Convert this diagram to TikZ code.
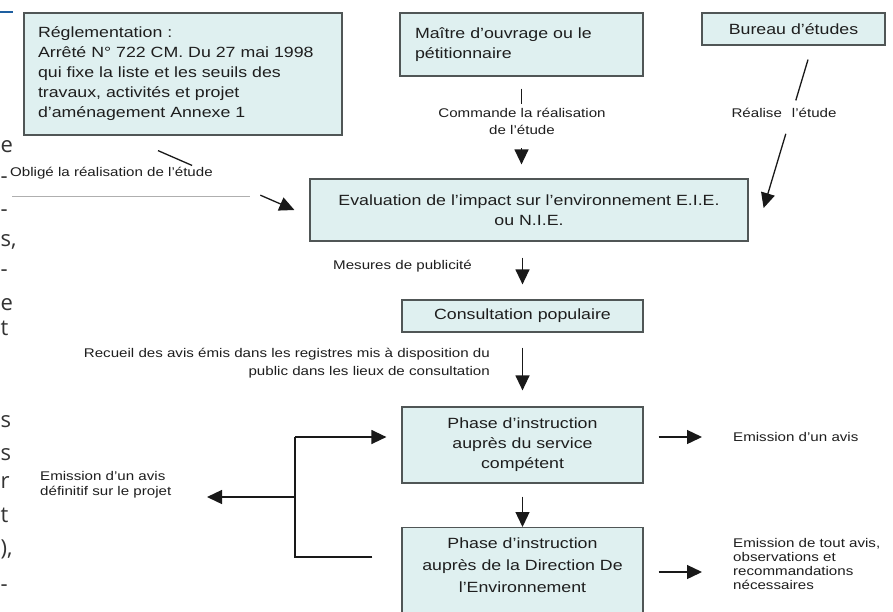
\documentclass[tikz,border=0pt]{standalone}
\usepackage{fontspec}
\setmainfont{Liberation Sans}[FakeStretch=1.2]
\newfontfamily\marginfont{Open Sans}
\usetikzlibrary{arrows.meta,calc}
\definecolor{boxfill}{RGB}{223,240,240}
\definecolor{boxline}{RGB}{80,86,86}
\definecolor{ink}{RGB}{30,30,30}
\definecolor{rulegray}{RGB}{175,175,175}
\definecolor{pageblue}{RGB}{30,95,160}
\begin{document}
\begin{tikzpicture}[x=1pt,y=-1pt,
  box/.style={draw=boxline,line width=1.2pt,fill=boxfill,inner sep=0pt,text=ink,
    font=\fontsize{14.8}{20}\selectfont},
  boxtext/.style={inner sep=0pt,text=ink,font=\fontsize{14.8}{22}\selectfont},
  lbl/.style={inner sep=0pt,text=ink,font=\fontsize{12.6}{15}\selectfont},
  link/.style={draw=black!90,line width=1.3pt},
  arr/.style={link,-{Triangle[width=14pt,length=15pt]}},
  margintext/.style={inner sep=0pt,anchor=west,text=black!80,
    font=\marginfont\fontsize{22}{22}\selectfont}]

\fill[white] (0,0) rectangle (893,611);
\useasboundingbox (0,0) rectangle (893,611);

% line ends of the neighbouring page column
\draw[pageblue,line width=2.2pt] (0,12) -- (13,12);
\node[margintext] (m1)  at (0.5,147) {e};
\node[margintext] (m2)  at (0.5,180) {-};
\node[margintext] (m3)  at (0.5,213) {-};
\node[margintext] (m4)  at (0.5,242) {s,};
\node[margintext] (m5)  at (0.5,273) {-};
\node[margintext] (m6)  at (0.5,305) {e};
\node[margintext] (m7)  at (0.5,328) {t};
\node[margintext] (m8)  at (0.5,422) {s};
\node[margintext] (m9)  at (0.5,455) {s};
\node[margintext] (m10) at (0.5,482) {r};
\node[margintext] (m11) at (0.5,515) {t};
\node[margintext] (m12) at (0.5,549) {),};
\node[margintext] (m13) at (0.5,588) {-};

% boxes
\node[box,minimum width=318pt,minimum height=122pt,text width=290pt,align=left]
  (regl) at (183,74) {Réglementation :\\Arrêté N° 722 CM. Du 27 mai 1998\\qui fixe la liste et les seuils des\\travaux, activités et projet\\d'aménagement Annexe 1};
\node[box,minimum width=243pt,minimum height=63pt,text width=213pt,align=left]
  (maitre) at (521.5,44.5) {Maître d'ouvrage ou le\\pétitionnaire};
\node[box,minimum width=183pt,minimum height=32pt]
  (bureau) at (793.5,29) {Bureau d'études};
\node[box,minimum width=438pt,minimum height=62pt,align=center]
  (eval) at (529,210) {Evaluation de l'impact sur l'environnement E.I.E.\\ou N.I.E.};
\node[box,minimum width=241pt,minimum height=32pt]
  (consult) at (522.5,316) {Consultation populaire};
\node[box,minimum width=241pt,minimum height=76pt,align=center]
  (phase1) at (522.5,445) {Phase d'instruction\\auprès du service\\compétent};
\node[box,minimum width=241pt,minimum height=100pt,anchor=north]
  (phase2) at (522.5,527) {};
\node[boxtext,align=center] (phase2text) at (522.5,565)
  {Phase d'instruction\\auprès de la Direction De\\l'Environnement};

% labels
\node[lbl,align=center,font=\fontsize{12.6}{17}\selectfont] (cmd) at (522,121.5)
  {Commande la réalisation\\de l'étude};
\node[lbl] (rea) at (784,113) {Réalise\hspace{10pt}l'étude};
\node[lbl,anchor=west] (obl) at (10,173) {Obligé la réalisation de l'étude};
\node[lbl,anchor=west] (pub) at (333,266) {Mesures de publicité};
\node[lbl,anchor=east,align=right,font=\fontsize{12.6}{18}\selectfont] (rec) at (490,363)
  {Recueil des avis émis dans les registres mis à disposition du\\public dans les lieux de consultation};
\node[lbl,anchor=west] (avis1) at (733,437) {Emission d'un avis};
\node[lbl,anchor=west,align=left,font=\fontsize{12.6}{14.3}\selectfont] (avis2) at (733,564)
  {Emission de tout avis,\\observations et\\recommandations\\nécessaires};
\node[lbl,anchor=west,align=left,font=\fontsize{12.6}{15}\selectfont] (final) at (40,484.5)
  {Emission d'un avis\\définitif sur le projet};

% rule under the left label
\draw[rulegray,line width=1pt] (12,196) -- (250,196);

% Maitre d'ouvrage -> evaluation (interrupted by its label)
\coordinate (cmdA) at ($(maitre.south)+(0,12)$);
\coordinate (cmdB) at ($(maitre.south)+(0,27)$);
\coordinate (cmdC) at ($(eval.north -| maitre.south)+(0,-30)$);
\coordinate (cmdD) at ($(eval.north -| maitre.south)+(0,-14)$);
\draw[link] (cmdA) -- (cmdB);
\draw[arr] (cmdC) -- (cmdD);

% Reglementation -> evaluation
\coordinate (oblA) at ($(regl.south)+(-25,15)$);
\coordinate (oblB) at ($(eval.west)+(-15,0)$);
\draw[link] (oblA) -- ($(oblA)!0.25!(oblB)$);
\draw[arr] ($(oblA)!0.75!(oblB)$) -- (oblB);

% Bureau d'etudes -> evaluation
\coordinate (reaA) at ($(bureau.south)+(14.5,14)$);
\coordinate (reaB) at ($(eval.east)+(15,-2)$);
\draw[link] (reaA) -- ($(reaA)!0.275!(reaB)$);
\draw[arr] ($(reaA)!0.5!(reaB)$) -- (reaB);

% main vertical chain
\draw[arr] ($(eval.south -| consult.north)+(0,16)$) -- ($(consult.north)+(0,-15)$);
\draw[arr] ($(consult.south)+(0,15)$) -- ($(phase1.north)+(0,-16)$);
\draw[arr] ($(phase1.south)+(0,13)$) -- (phase2.north);

% outputs to the right
\draw[arr] ($(phase1.east |- avis1.west)+(15,0)$) -- ($(avis1.west)+(-31,0)$);
\draw[arr] ($(phase2.east |- avis2.west)+(15,8)$) -- ($(avis2.west)+(-31,8)$);

% bracket on the left
\coordinate (bT) at (295,437);
\coordinate (bM) at (295,497);
\coordinate (bB) at (295,557);
\coordinate (finaltip) at (207,497);
\draw[link] ($(phase2.west |- bB)+(-29,0)$) -- (bB) -- (bT);
\draw[arr] (bT) -- ($(phase1.west |- bT)+(-15,0)$);
\draw[arr] (bM) -- (finaltip);

\end{tikzpicture}
\end{document}
